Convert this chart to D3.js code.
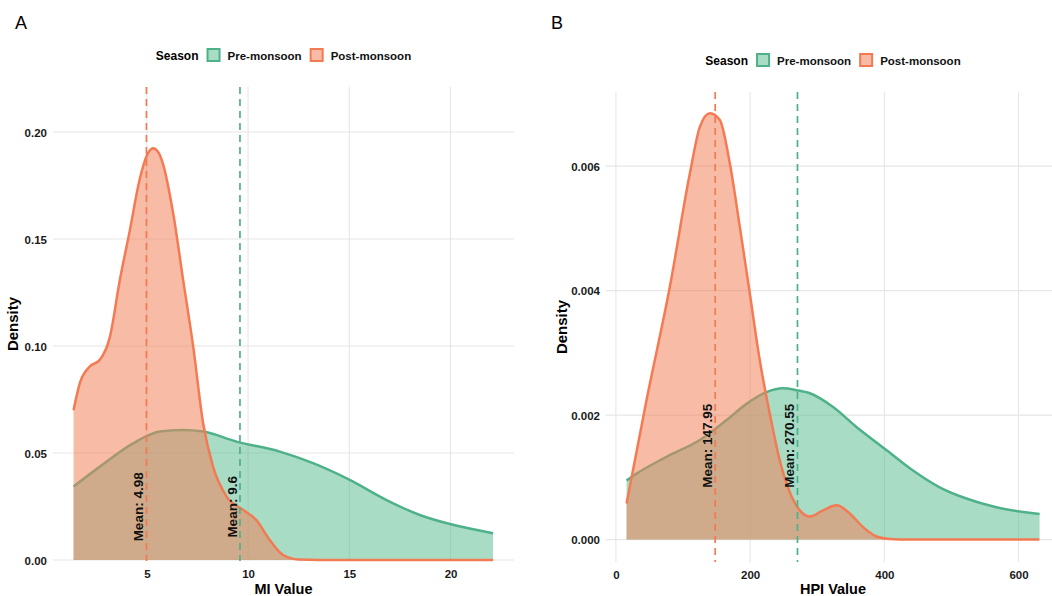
<!DOCTYPE html>
<html>
<head>
<meta charset="utf-8">
<script src="https://cdn.jsdelivr.net/npm/d3@7"></script>
<style>
  body { margin: 0; background: #fff; }
  svg { font-family: "Liberation Sans", Arial, sans-serif; }
</style>
</head>
<body>
<div id="container"></div>
<script>
/* DATA */
const seasons = ["Pre-monsoon", "Post-monsoon"];

// MI density curves [value, density]
const miPre = [[1.38,0.0343],[2.68,0.0436],[4.32,0.0545],[5.64,0.0600],[6.79,0.0607],[7.78,0.0600],
  [9.43,0.0553],[11.57,0.0506],[13.21,0.0452],[15.02,0.0374],[16.84,0.0280],[18.48,0.0210],
  [20.12,0.0164],[22.1,0.0125]];
const miPost = [[1.38,0.0700],[1.69,0.0826],[2.17,0.0903],[2.68,0.0935],[3.17,0.1040],[3.67,0.1310],
  [4.16,0.1540],[4.65,0.1780],[5.0,0.1890],[5.31,0.1924],[5.6,0.1900],[5.8,0.1850],[6.3,0.1620],
  [6.79,0.1310],[7.29,0.0997],[7.78,0.0639],[8.27,0.0436],[8.94,0.0296],[9.75,0.0234],[10.4,0.0187],
  [11.07,0.0093],[11.73,0.0023],[12.5,0.0002],[13.5,0],[22.1,0]];
const miMeans = [9.6, 4.98];
const miXTicks = [5, 10, 15, 20];
const miYTicks = [0, 0.05, 0.10, 0.15, 0.20];

// HPI density curves [value, density]
const hpiPre = [[15.9,0.00095],[30.8,0.00106],[75.5,0.00133],[125.1,0.00160],[164.9,0.00192],
  [194.6,0.00218],[224.4,0.00237],[249.2,0.00243],[269,0.00240],[289,0.00235],[323.6,0.00213],
  [358.4,0.00181],[400.6,0.00146],[442.7,0.00111],[482.4,0.00084],[522.2,0.00066],[566.8,0.00052],
  [631.3,0.00041]];
const hpiPost = [[15.9,0.00058],[45.6,0.00224],[80.4,0.00406],[110.2,0.00588],[125.1,0.00663],
  [140,0.00685],[154.9,0.00674],[169.8,0.00604],[184.7,0.00502],[199.6,0.00395],[214.4,0.00288],
  [229.3,0.00202],[244.2,0.00127],[259.1,0.00076],[274,0.00047],[289,0.00037],[308.7,0.00047],
  [328.7,0.00055],[348.5,0.00042],[368.3,0.00020],[388.2,0.00005],[408,0.00001],[440,0],[631,0]];
const hpiMeans = [270.55, 147.95];
const hpiXTicks = [0, 200, 400, 600];
const hpiYTicks = [0, 0.002, 0.004, 0.006];

/* CONSTANTS */
const width = 1052, height = 596;
const lineColors = ["#4FB18A", "#F47A53"];
const fillColors = ["rgba(91,189,146,0.53)", "rgba(242,129,87,0.53)"];

const svg = d3.select("#container").append("svg")
  .attr("width", width).attr("height", height);

function panel(opt) {
  const x = d3.scaleLinear().domain(opt.xDomain).range([opt.left, opt.right]);
  const y = d3.scaleLinear().domain(opt.yDomain).range([opt.bottom, opt.top]);
  const g = svg.append("g");

  // grid
  g.selectAll(".gx").data(opt.xTicks).join("line")
    .attr("x1", d => x(d)).attr("x2", d => x(d))
    .attr("y1", opt.top).attr("y2", opt.bottom)
    .attr("stroke", "#e6e6e6").attr("stroke-width", 1.1);
  g.selectAll(".gy").data(opt.yTicks).join("line")
    .attr("x1", opt.left).attr("x2", opt.right)
    .attr("y1", d => y(d)).attr("y2", d => y(d))
    .attr("stroke", "#e6e6e6").attr("stroke-width", 1.1);

  const area = d3.area().x(d => x(d[0])).y0(y(0)).y1(d => y(d[1])).curve(d3.curveMonotoneX);
  const line = d3.line().x(d => x(d[0])).y(d => y(d[1])).curve(d3.curveMonotoneX);

  opt.curves.forEach((c, i) => {
    g.append("path").attr("d", area(c)).attr("fill", fillColors[i]);
    g.append("path").attr("d", line(c)).attr("fill", "none")
      .attr("stroke", lineColors[i]).attr("stroke-width", 2.5);
  });

  // mean lines + labels
  opt.means.forEach((m, i) => {
    g.append("line")
      .attr("x1", x(m)).attr("x2", x(m)).attr("y1", opt.top).attr("y2", opt.bottom)
      .attr("stroke", lineColors[i]).attr("stroke-width", 1.7)
      .attr("stroke-dasharray", "7,5");
    g.append("text")
      .attr("transform", `translate(${x(m) - 3},${y(opt.labelY)}) rotate(-90)`)
      .attr("text-anchor", "middle")
      .style("font-size", "13.5px").style("font-weight", "bold").attr("fill", "#111")
      .text("Mean: " + m);
  });

  // axes
  const xAxis = g.append("g").attr("transform", `translate(0,${opt.bottom})`)
    .call(d3.axisBottom(x).tickValues(opt.xTicks).tickSize(0).tickPadding(9).tickFormat(d3.format("d")));
  const yAxis = g.append("g").attr("transform", `translate(${opt.left},0)`)
    .call(d3.axisLeft(y).tickValues(opt.yTicks).tickSize(0).tickPadding(6).tickFormat(d3.format(opt.yFormat)));
  [xAxis, yAxis].forEach(a => {
    a.select(".domain").remove();
    a.selectAll("text").style("font-size", "11.5px").style("font-weight", "bold")
      .attr("fill", "#1a1a1a").style("font-family", "Liberation Sans, Arial, sans-serif");
  });
  yAxis.selectAll("text").attr("dy", "0.36em");

  // axis titles
  const cx = (opt.left + opt.right) / 2;
  g.append("text").attr("x", cx).attr("y", 594).attr("text-anchor", "middle")
    .style("font-size", "14.5px").style("font-weight", "bold").text(opt.xTitle);
  g.append("text")
    .attr("transform", `translate(${opt.yTitleX},${(opt.top + opt.bottom) / 2}) rotate(-90)`)
    .attr("text-anchor", "middle").style("font-size", "15px").style("font-weight", "bold")
    .text("Density");

  // panel tag
  g.append("text").attr("x", opt.tagX).attr("y", 29).style("font-size", "18px").text(opt.tag);

  // legend
  const leg = g.append("g");
  const ly = opt.legendY;
  let px = 0;
  const t = leg.append("text").attr("x", px).attr("y", ly + 4.5)
    .style("font-size", "12px").style("font-weight", "bold").text("Season");
  px += t.node().getComputedTextLength() + 8;
  seasons.forEach((s, i) => {
    leg.append("rect").attr("x", px + 1).attr("y", ly - 6).attr("width", 12).attr("height", 12)
      .attr("fill", fillColors[i]).attr("stroke", lineColors[i]).attr("stroke-width", 2);
    px += 21;
    const tt = leg.append("text").attr("x", px).attr("y", ly + 4.5)
      .style("font-size", "11.5px").style("font-weight", "bold").attr("fill", "#111").text(s);
    px += tt.node().getComputedTextLength() + 8;
  });
  leg.attr("transform", `translate(${cx - (px - 8) / 2},0)`);
}

panel({
  tag: "A", tagX: 15,
  left: 53, right: 514, top: 87, bottom: 561,
  xDomain: [0.365, 23.135], yDomain: [-0.0005, 0.221],
  xTicks: miXTicks, yTicks: miYTicks, yFormat: ".2f",
  curves: [miPre, miPost], means: miMeans, labelY: 0.0248,
  xTitle: "MI Value", yTitleX: 18, legendY: 55
});

panel({
  tag: "B", tagX: 551,
  left: 606, right: 1060, top: 92, bottom: 562,
  xDomain: [-14.75, 661.75], yDomain: [-0.00036, 0.00719],
  xTicks: hpiXTicks, yTicks: hpiYTicks, yFormat: ".3f",
  curves: [hpiPre, hpiPost], means: hpiMeans, labelY: 0.001507,
  xTitle: "HPI Value", yTitleX: 567, legendY: 60
});
</script>
</body>
</html>
